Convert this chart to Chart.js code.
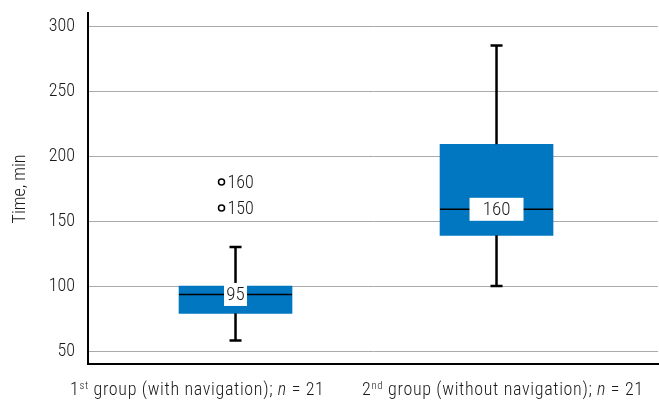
<!DOCTYPE html>
<html><head><meta charset="utf-8">
<script src="https://cdn.jsdelivr.net/npm/chart.js@4"></script>
<style>html,body{margin:0;padding:0;background:#fff}#wrap{width:659px;height:403px;position:relative}</style>
</head><body><div id="wrap"><canvas id="c"></canvas></div>
<script>
// ---- data ----
const categories = ['1st group (with navigation); n = 21', '2nd group (without navigation); n = 21'];
const whiskerLow  = [58, 100];
const q1          = [79, 139];
const median      = [93.5, 159];
const q3          = [100, 209];
const whiskerHigh = [130, 285];
const medianLabels = ['95', '160'];
const outlierValues = [[180, 160], []];
const outlierLabels = [['160', '150'], []];
const yTicks = [50, 100, 150, 200, 250, 300];

// ---- layout / style (not data) ----
const groupX = [0.2588, 0.7167];
const FAMILY = "'Roboto Condensed', Roboto, sans-serif";
const WEIGHT = '300';
const F = (size, extra) => (extra ? extra + ' ' : '') + WEIGHT + ' condensed ' + size + 'px ' + FAMILY;
const BOX_W = 113;
const labelBoxW = [23, 54];
const xLabelLeftShift = [-165.5, -134.5];
const TEXT = '#1a1a1a';

function labelParts(i){
  if(i===0) return [{t:'1'},{t:'st',sup:true},{t:' group (with navigation); '},{t:'n',it:true},{t:' = 21'}];
  return [{t:'2'},{t:'nd',sup:true},{t:' group (without navigation); '},{t:'n',it:true},{t:' = 21'}];
}

const boxPlugin = {
  id:'boxPlugin',
  afterDatasetsDraw(chart){
    const ctx = chart.ctx, xs = chart.scales.x, ys = chart.scales.y;
    ctx.save();
    categories.forEach((c,i)=>{
      const cx = xs.getPixelForValue(groupX[i]);
      const half = BOX_W/2;
      ctx.strokeStyle = '#000'; ctx.lineWidth = 2.5; ctx.lineCap='butt';
      ctx.beginPath();
      ctx.moveTo(cx, ys.getPixelForValue(q3[i])); ctx.lineTo(cx, ys.getPixelForValue(whiskerHigh[i]));
      ctx.moveTo(cx, ys.getPixelForValue(q1[i])); ctx.lineTo(cx, ys.getPixelForValue(whiskerLow[i]));
      ctx.stroke();
      ctx.beginPath();
      [whiskerHigh[i], whiskerLow[i]].forEach(v=>{
        const y = ys.getPixelForValue(v);
        ctx.moveTo(cx-6, y); ctx.lineTo(cx+6, y);
      });
      ctx.stroke();
      const my = ys.getPixelForValue(median[i]);
      ctx.lineWidth = 1.5;
      ctx.beginPath(); ctx.moveTo(cx-half, my); ctx.lineTo(cx+half, my); ctx.stroke();
      const bw = labelBoxW[i], bh = 23;
      ctx.fillStyle = '#fff';
      ctx.fillRect(cx-bw/2, my-bh/2, bw, bh);
      ctx.fillStyle = TEXT;
      ctx.font = F(19);
      ctx.textAlign = 'center'; ctx.textBaseline = 'middle';
      ctx.fillText(medianLabels[i], cx, my+1);
      outlierValues[i].forEach((v,k)=>{
        const oy = ys.getPixelForValue(v);
        ctx.beginPath(); ctx.arc(cx-14, oy, 3, 0, Math.PI*2);
        ctx.fillStyle='#fff'; ctx.fill();
        ctx.lineWidth = 1.5; ctx.strokeStyle='#000'; ctx.stroke();
        ctx.fillStyle=TEXT; ctx.textAlign='left'; ctx.textBaseline='middle';
        ctx.font = F(18);
        ctx.fillText(outlierLabels[i][k], cx-8, oy+1);
      });
      const parts = labelParts(i);
      const fontFor = p => p.sup ? F(11) : (p.it ? F(18,'italic') : F(18));
      let x = cx + xLabelLeftShift[i];
      const base = 395;
      ctx.save();
      ctx.letterSpacing = '0.65px';
      ctx.textAlign='left'; ctx.textBaseline='alphabetic'; ctx.fillStyle=TEXT;
      parts.forEach(p=>{
        ctx.font = fontFor(p);
        ctx.fillText(p.t, x, p.sup ? base-6 : base);
        x += ctx.measureText(p.t).width;
      });
      ctx.restore();
    });
    ctx.save();
    ctx.translate(20, 189); ctx.rotate(-Math.PI/2);
    ctx.font = F(18); ctx.fillStyle=TEXT;
    ctx.textAlign='center'; ctx.textBaseline='middle';
    ctx.fillText('Time, min', 0, 0);
    ctx.restore();
    ctx.restore();
  }
};

new Chart(document.getElementById('c'), {
  type:'bar',
  data:{
    datasets:[{
      data: categories.map((c,i)=>({x:groupX[i], y:[q1[i], q3[i]]})),
      backgroundColor:'#0077C0',
      borderWidth:0,
      barThickness: BOX_W
    }]
  },
  options:{
    responsive:true, maintainAspectRatio:false, animation:false,
    layout:{padding:{top:13, right:1, left:0, bottom:0}},
    plugins:{legend:{display:false}, tooltip:{enabled:false}},
    scales:{
      x:{type:'linear', min:0, max:1, offset:false,
        ticks:{display:false}, grid:{display:false},
        border:{display:true, color:'#000', width:2},
        afterFit:s=>{s.height=39; s.paddingLeft=0; s.paddingRight=0;}
      },
      y:{min:40, max:310,
        afterBuildTicks:s=>{s.ticks = yTicks.map(v=>({value:v}));},
        ticks:{font:{size:18, family:FAMILY, weight:WEIGHT + ' condensed'}, color:TEXT, padding:13},
        grid:{color:'#aaa', drawTicks:false},
        border:{color:'#000', width:2},
        afterFit:s=>{s.width=88; s.paddingTop=0; s.paddingBottom=0;}
      }
    }
  },
  plugins:[boxPlugin]
});
</script></body></html>
